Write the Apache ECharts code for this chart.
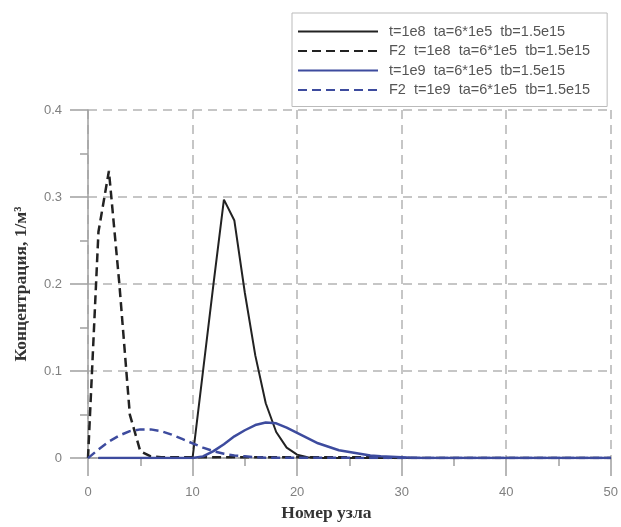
<!DOCTYPE html>
<html>
<head>
<meta charset="utf-8">
<script src="https://cdn.jsdelivr.net/npm/echarts@6/dist/echarts.min.js"></script>
<style>
    html, body { margin: 0; padding: 0; background: #fff; }
    #chart { width: 621px; height: 527px; }
</style>
</head>
<body>
<div id="chart"></div>
<script>
// номера узлов
const nodesFrom0 = [0, 1, 2, 3, 4, 5, 6, 7, 8, 9, 10, 11, 12, 13, 14, 15, 16, 17, 18, 19, 20,
    21, 22, 23, 24, 25, 26, 27, 28, 29, 30, 31, 32, 33, 34, 35, 36, 37, 38, 39, 40,
    41, 42, 43, 44, 45, 46, 47, 48, 49, 50];
const nodesFrom1 = nodesFrom0.slice(1);

const seriesNames = [
    "t=1e8  ta=6*1e5  tb=1.5e15",
    "F2  t=1e8  ta=6*1e5  tb=1.5e15",
    "t=1e9  ta=6*1e5  tb=1.5e15",
    "F2  t=1e9  ta=6*1e5  tb=1.5e15"
];

// t=1e8, узлы 1..50
const solid1e8 = [0, 0, 0, 0, 0, 0, 0, 0, 0, 0,
    0.1, 0.2, 0.297, 0.273, 0.19, 0.118, 0.063, 0.03, 0.012, 0.004,
    0.001, 0, 0, 0, 0, 0, 0, 0, 0, 0,
    0, 0, 0, 0, 0, 0, 0, 0, 0, 0,
    0, 0, 0, 0, 0, 0, 0, 0, 0, 0];

// F2 t=1e8, узлы 0..50
const dashed1e8 = [0, 0.26, 0.33, 0.2, 0.05, 0.008, 0.002, 0.001, 0.001, 0.001,
    0.001, 0.001, 0.001, 0.001, 0.001, 0.001, 0.001, 0.001, 0.001, 0.001,
    0.001, 0.001, 0.001, 0.001, 0.001, 0.001, 0.001, 0.001, 0.001, 0,
    0, 0, 0, 0, 0, 0, 0, 0, 0, 0,
    0, 0, 0, 0, 0, 0, 0, 0, 0, 0, 0];

// t=1e9, узлы 1..50
const solid1e9 = [0, 0, 0, 0, 0, 0, 0, 0, 0, 0,
    0.002, 0.008, 0.016, 0.025, 0.032, 0.038, 0.041, 0.04, 0.035, 0.029,
    0.023, 0.017, 0.013, 0.009, 0.007, 0.005, 0.003, 0.002, 0.0015, 0.001,
    0.0005, 0, 0, 0, 0, 0, 0, 0, 0, 0,
    0, 0, 0, 0, 0, 0, 0, 0, 0, 0];

// F2 t=1e9, узлы 0..50
const dashed1e9 = [0, 0.01, 0.019, 0.026, 0.031, 0.033, 0.033, 0.031, 0.027, 0.022,
    0.017, 0.012, 0.008, 0.005, 0.003, 0.002, 0.001, 0.0005, 0.0005, 0.0005,
    0.0005, 0.0005, 0.0005, 0.0005, 0.0005, 0.0005, 0, 0, 0, 0,
    0, 0, 0, 0, 0, 0, 0, 0, 0, 0,
    0, 0, 0, 0, 0, 0, 0, 0, 0, 0, 0];

const colorBlack = "#222222";
const colorBlue = "#3d4b9e";
const colorGrid = "#b4b4b4";
const colorAxis = "#a0a0a0";
const colorLabel = "#808080";

function pairs(xs, ys) {
    return xs.map((x, i) => [x, ys[i]]);
}

function makeLine(name, xs, ys, color, dashed, width) {
    return {
        name: name,
        type: "line",
        symbol: "none",
        data: pairs(xs, ys),
        lineStyle: {
            color: color,
            width: width,
            type: dashed ? [9, 5] : "solid"
        },
        itemStyle: { color: color }
    };
}

const chart = echarts.init(document.getElementById("chart"));
chart.setOption({
    animation: false,
    backgroundColor: "#ffffff",
    grid: {
        left: 88,
        right: 9,
        top: 110,
        bottom: 65
    },
    legend: {
        orient: "vertical",
        left: 292,
        top: 13,
        padding: [11, 17, 9, 5],
        itemWidth: 80,
        itemHeight: 14,
        itemGap: 4.5,
        itemStyle: { opacity: 0 },
        backgroundColor: "#ffffff",
        borderColor: "#bbbbbb",
        borderWidth: 1,
        data: seriesNames,
        textStyle: {
            fontFamily: "Liberation Sans",
            fontSize: 14.5,
            color: "#555555",
            padding: [0, 0, 0, 6]
        }
    },
    xAxis: {
        type: "value",
        min: 0,
        max: 50,
        interval: 10,
        name: "Номер узла",
        nameLocation: "middle",
        nameGap: 45,
        nameTextStyle: {
            fontFamily: "Liberation Serif",
            fontWeight: "bold",
            fontSize: 17.5,
            color: "#333333",
            padding: [0, 46, 0, 0]
        },
        axisLine: { lineStyle: { color: colorAxis, width: 1.5 } },
        axisTick: { length: 18, lineStyle: { color: colorAxis, width: 1.5 } },
        minorTick: { show: true, splitNumber: 2, length: 8, lineStyle: { color: colorAxis, width: 1.5 } },
        axisLabel: {
            margin: 28,
            fontFamily: "Liberation Sans",
            fontSize: 13,
            color: colorLabel
        },
        splitLine: {
            show: true,
            lineStyle: { color: colorGrid, width: 1.5, type: [9, 6] }
        }
    },
    yAxis: {
        type: "value",
        min: 0,
        max: 0.4,
        interval: 0.1,
        name: "Концентрация, 1/м³",
        nameLocation: "middle",
        nameGap: 58,
        nameTextStyle: {
            fontFamily: "Liberation Serif",
            fontWeight: "bold",
            fontSize: 17.5,
            color: "#333333"
        },
        axisLine: { show: true, lineStyle: { color: colorAxis, width: 1.5 } },
        axisTick: { show: true, length: 18, lineStyle: { color: colorAxis, width: 1.5 } },
        minorTick: { show: true, splitNumber: 2, length: 8, lineStyle: { color: colorAxis, width: 1.5 } },
        axisLabel: {
            margin: 26,
            fontFamily: "Liberation Sans",
            fontSize: 13,
            color: colorLabel
        },
        splitLine: {
            show: true,
            lineStyle: { color: colorGrid, width: 1.5, type: [9, 6] }
        }
    },
    series: [
        makeLine(seriesNames[0], nodesFrom1, solid1e8, colorBlack, false, 2),
        makeLine(seriesNames[1], nodesFrom0, dashed1e8, colorBlack, true, 2.5),
        makeLine(seriesNames[2], nodesFrom1, solid1e9, colorBlue, false, 2.5),
        makeLine(seriesNames[3], nodesFrom0, dashed1e9, colorBlue, true, 2.5)
    ]
});
</script>
</body>
</html>
